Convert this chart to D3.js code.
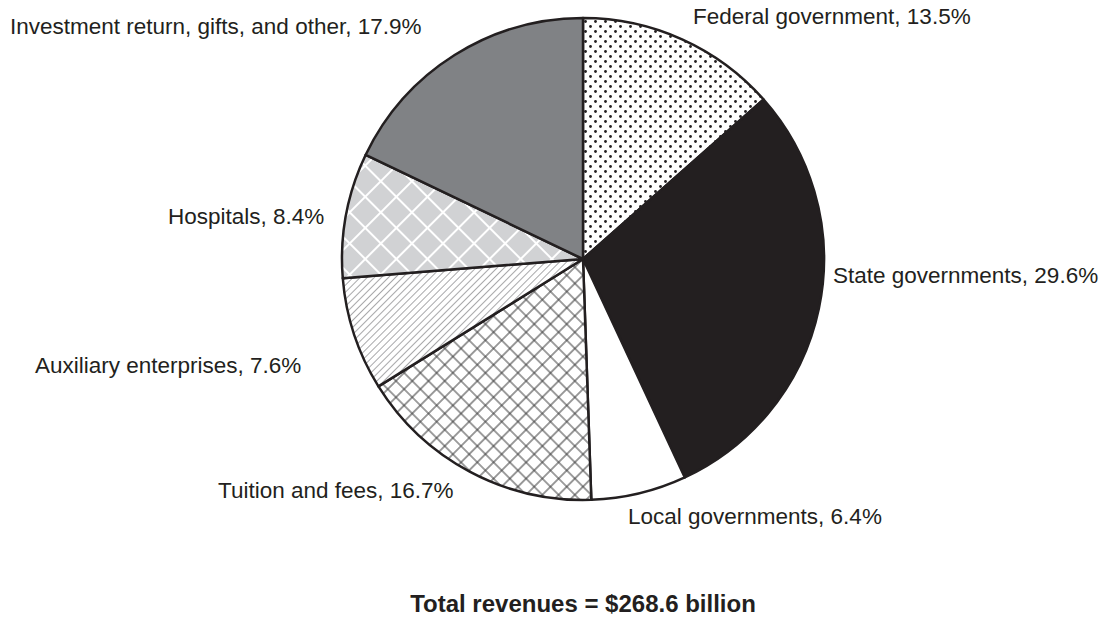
<!DOCTYPE html>
<html>
<head>
<meta charset="utf-8">
<script src="https://cdn.jsdelivr.net/npm/d3@7"></script>
<style>
  body { margin: 0; background: #fff; }
  text { font-family: "Liberation Sans", Arial, sans-serif; fill: #231f20; }
</style>
</head>
<body>
<script>
// Revenue sources, clockwise from 12 o'clock
const categories = ["Federal government", "State governments", "Local governments",
    "Tuition and fees", "Auxiliary enterprises", "Hospitals",
    "Investment return, gifts, and other"];
const shares = [13.5, 29.6, 6.4, 16.7, 7.6, 8.4, 17.9];
const fills = ["url(#dots)", "#231f20", "#ffffff", "url(#xhatch)", "url(#diag)", "url(#hosp)", "#808285"];
const totalLabel = "Total revenues = $268.6 billion";

// label placement (start of text, baseline)
const labelPos = [[693, 24], [833, 283], [628, 524], [218, 498], [35, 373], [168, 224], [10, 34]];

var width = 1103, height = 619;
var cx = 583, cy = 259, radius = 241;

var svg = d3.select("body").append("svg")
    .attr("width", width)
    .attr("height", height);

var defs = svg.append("defs");

// dotted pattern
var dots = defs.append("pattern")
    .attr("id", "dots")
    .attr("patternUnits", "userSpaceOnUse")
    .attr("width", 10).attr("height", 10);
dots.append("rect").attr("width", 10).attr("height", 10).attr("fill", "#fff");
[[2.5, 2.5], [7.5, 7.5]].forEach(p => {
    dots.append("circle").attr("cx", p[0]).attr("cy", p[1]).attr("r", 1.4).attr("fill", "#231f20");
});

// cross hatch (square grid turned 45 degrees)
function grid(id, size, bg, stroke, sw) {
    var p = defs.append("pattern")
        .attr("id", id)
        .attr("patternUnits", "userSpaceOnUse")
        .attr("width", size).attr("height", size)
        .attr("patternTransform", "rotate(45)");
    p.append("rect").attr("width", size).attr("height", size).attr("fill", bg);
    p.append("path")
        .attr("d", `M0,0H${size}M0,0V${size}M0,${size}H${size}M${size},0V${size}`)
        .attr("stroke", stroke)
        .attr("stroke-width", sw)
        .attr("fill", "none");
}
grid("xhatch", 11.5, "#fff", "#3a3a3a", 1);
grid("hosp", 22, "#d1d2d4", "#fff", 2);

// single diagonal lines
var diag = defs.append("pattern")
    .attr("id", "diag")
    .attr("patternUnits", "userSpaceOnUse")
    .attr("width", 5).attr("height", 5)
    .attr("patternTransform", "rotate(45)");
diag.append("rect").attr("width", 5).attr("height", 5).attr("fill", "#fff");
diag.append("path").attr("d", "M0,0V5").attr("stroke", "#6d6e71").attr("stroke-width", 1.2);

var pie = d3.pie().sort(null).value(d => d);
var arc = d3.arc().innerRadius(0).outerRadius(radius);

var chart = svg.append("g")
    .attr("transform", `translate(${cx},${cy})`);

chart.selectAll(".slice").data(pie(shares))
  .enter().append("path")
    .attr("class", "slice")
    .attr("d", arc)
    .attr("fill", (d, i) => fills[i])
    .attr("stroke", "#231f20")
    .attr("stroke-width", 2.5)
    .attr("stroke-linejoin", "round");

// labels
svg.selectAll(".lbl").data(shares)
  .enter().append("text")
    .attr("class", "lbl")
    .attr("x", (d, i) => labelPos[i][0])
    .attr("y", (d, i) => labelPos[i][1])
    .attr("font-size", 22.5)
    .text((d, i) => `${categories[i]}, ${d3.format(".1f")(d)}%`);

svg.append("text")
    .attr("x", cx)
    .attr("y", 612)
    .attr("text-anchor", "middle")
    .attr("font-size", 24)
    .attr("font-weight", "bold")
    .text(totalLabel);
</script>
</body>
</html>
